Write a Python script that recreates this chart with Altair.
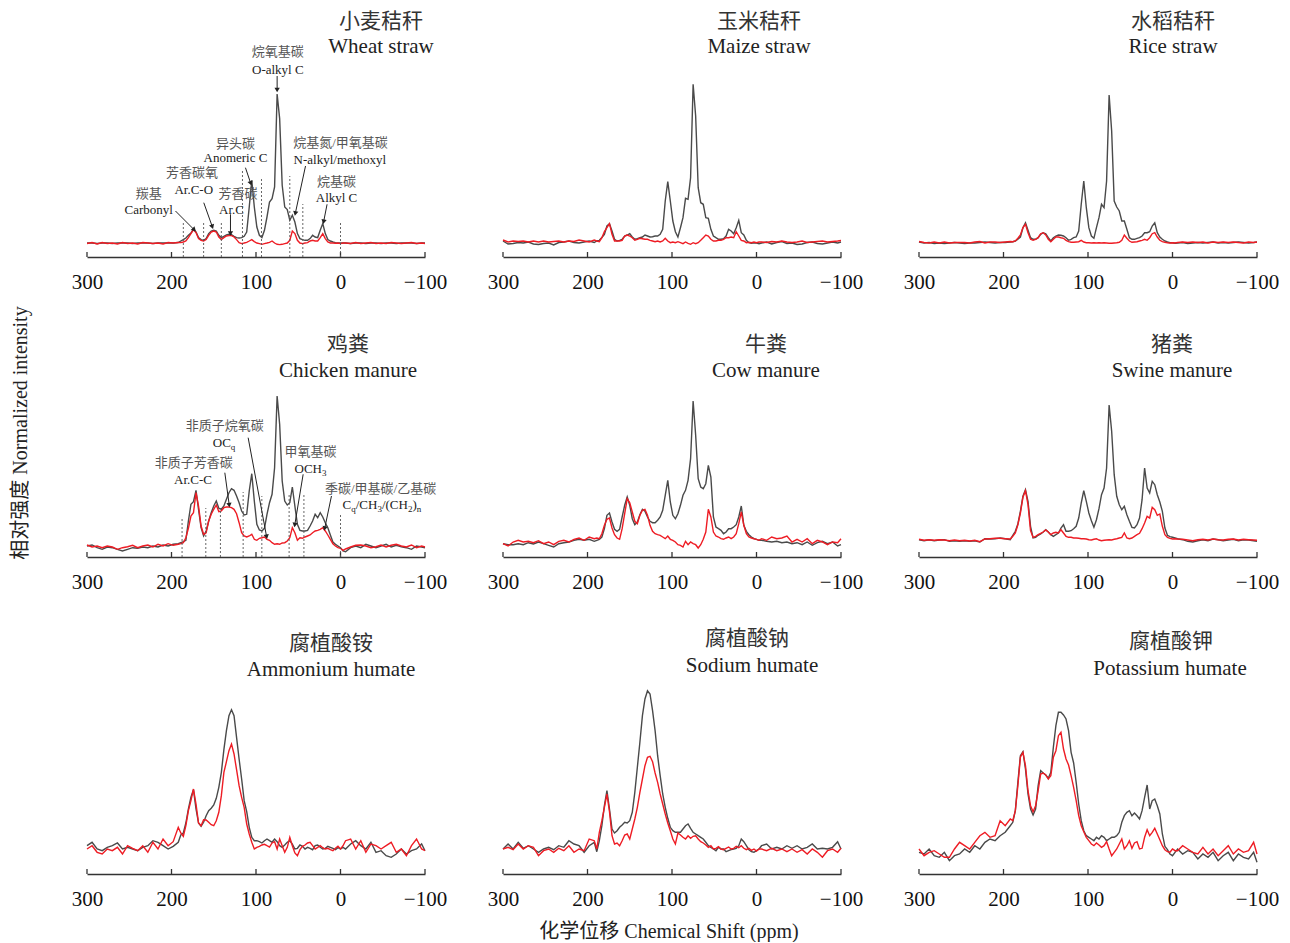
import math
import altair as alt
import pandas as pd

# shared chemical-shift grid (ppm)
PPM = list(range(300, 191, -6)) + list(range(189, -4, -3)) + list(range(-6, -97, -6)) + [-100]
TICKS = [300, 200, 100, 0, -100]

# ---------------- Row 1: straws ----------------
WHEAT_GRAY = [14,14,13.5,14,14,13.5,14,14,14,13.5,14,14,14,13.5,14,14,14,14,14.5] + [
    16,17.4,19,21.7,24,27.4,25,19.4,17.4,16.7,
    18.4,23.4,26,26.7,26,21.7,19.4,20.7,22,22.7,
    22.4,20.7,19.4,19,19.4,20.7,25,50,76.7,50,
    30,21.7,19.4,26.7,40,55,58.4,70,163,138.4,
    71.7,50,47.4,36.7,41.7,35,23.4,18.4,17.4,16.7,
    16.7,18.4,21.7,20,19.4,26.7,33.4,23.4,17.4,16,
    15,14.4,14,14,14] + [14,13.5,14,14,13.5,14,14,13.5,14,14,13.5,14,14,14,13.5,14,14]
WHEAT_RED = [13.5,14.5,13,14.5,13.5,14,13,14.5,13.5,14,13,14.5,14,13.5,14,13,14.5,14,14.5] + [
    14.4,15,16,19.4,23.4,27.4,24.4,18.4,16.7,16,
    17.4,21.7,25,26,25,20,17.4,19.4,21,21.4,
    21.4,20,17.4,14.4,13.4,14,14.7,16,17.4,15.4,
    14,13.4,12.7,13.4,14,14.7,16,14,12.7,12.4,
    12.7,13.4,14,16.7,26,23.4,16.7,14,13.4,14,
    14.4,16,16.7,16,16,19.4,23.4,18.4,15,14,
    14,13.7,14,13.4,14] + [14,13.5,14.5,13.5,14,14.5,13.5,14,13.5,14.5,14,13.5,14,14.5,13.5,14,13.5]

MAIZE_GRAY = [16,13,13.5,14.5,14,15,13,12.5,13.5,14,12,14.5,15,16,14.5,14,15,16,14.5] + [
    16,16.7,19.4,22.7,31,33.3,26,17.7,16,16.7,
    17.7,21,22,23.3,20,17.7,18.3,19.3,20,22,
    21,20,20.3,21,21,22.7,27.7,56,75.3,56,
    36,25.3,20,29.3,39.3,58.7,57.7,79.3,172.7,141,
    69.3,54.3,52.7,39.3,38.7,27.7,21,19.3,17.7,17.7,
    18.3,21,27.7,26,23.3,29.3,36.7,24.3,22,16.7,
    14.3,13.7,14.3,14,13.3] + [14,15,13,14.5,15.5,13.5,14,12.5,13,14.5,15,13.5,13,14,15,14,15]
MAIZE_RED = [17,15,16,15.5,16,15,16,15,16,15,15.5,16,15,16,15.5,17,16,15,17] + [
    16,15.3,19.3,25.3,29.3,33.3,22.7,16,16,16,
    16.7,21,22,21,19.3,16.7,17.7,18.7,18.3,17.7,
    17.7,16.7,16,15.3,16,15,16,18.7,16,14.3,
    15,14.3,15.3,14.3,13.3,15,13.7,12.7,14.3,13.3,
    14.3,16.7,19.3,22,21,17.7,16,16,16.7,16.7,
    17.7,19.3,19.3,20,19.3,25.3,21,16.7,16,14.3,
    14.7,14.3,15,14.3,15] + [15,14.5,15.5,15,16,15,14.5,15,16,14.5,15,15.5,16,15,15.5,16,16.5]

RICE_GRAY = [15,14,14.5,13.5,14,13.5,14,14.5,14,13.5,14,14,14.5,15,14.5,14,14.5,14.5,15] + [
    15.3,16,17.7,20,29.3,34.3,26.7,19.3,17.7,17.7,
    19.3,22.7,24.3,23.3,19.3,16,19.3,21,22,21.7,
    21,19.3,16.7,17.7,19.3,20,26,52.7,76,49.3,
    29.3,21,18.7,29.3,39.3,52.7,49.3,76,162,126,
    56,50,46,36,36,27.7,19.3,17.7,17.7,18.7,
    19.3,21,24.3,24.3,25.3,31,34.3,24.3,20,17.7,
    16,15,14.3,14.3,13.7] + [14,14.5,13.5,14,14.5,14,14.5,15,14,14.5,14,14.5,15,14.5,14,14.5,15]
RICE_RED = [15.5,14.5,14,15,14,15,14,14.5,14.5,14.5,14,15,15.5,14,15,15,14.5,15,15.5] + [
    15.3,16,18.7,22,29.3,32.7,24.3,17.7,16.7,17.7,
    19.3,23.3,24.3,22,17.7,15.3,17.7,20,20,19.3,
    18.7,16.7,15.3,14.7,14.7,15,15.3,16.7,15,14.3,
    14.3,14,14.3,14,14.3,14,14.3,14,13.7,13.7,
    14,14.3,14.7,16.7,22,18.7,16,14.7,15,15.3,
    16,16.7,17.7,16.7,19.3,23.3,24.3,20,16.7,15.3,
    14.7,14.3,14,14.3,14] + [14.5,15,14.5,15,14.5,15,14,15,14.5,15,14.5,15,14.5,14,15,14.5,15]

# ---------------- Row 2: manures ----------------
CHICKEN_GRAY = [11,12,9.3,7.7,10,9.3,7.7,6,7.7,9.3,8.7,10,9.3,11,10,12,11,12.7,13.3] + [
    14.3,15.3,16.7,36,52.7,55.3,66.7,47.7,29.3,21,
    26,36,44.3,51,56,48.7,47.7,51,57.7,64.3,
    68.3,66.7,61,54.3,46,42,42.7,66,83.3,56,
    32.7,27,26,28.7,42.7,54.3,62.7,89.3,161,132.7,
    76,56,52,54.3,70,51,32.7,26.7,26,26,
    26.7,31,36,42.7,39.3,44.3,40,34.3,29.3,22,
    15,12.7,11,9.3,6] + [5.3,9.3,11,9.3,12.7,11,9.3,11,12.7,10,11.7,10.3,9.3,7.7,11,10,9.3]
CHICKEN_RED = [12,10,11,9.3,11,10,7.7,9.3,10.3,11.7,9.3,11,12,10,12.7,11,13.3,11.7,12.7] + [
    13.3,14.3,19.3,28.7,41,44.3,64.3,51,31,22.7,
    24.3,36,42.7,47.7,52,45.3,46,49.3,50,50,
    49.3,47.7,43.3,34.3,24.3,21,20,21,22.7,17.7,
    16.7,18.7,19.3,20,17.7,16.7,14.3,12.7,13.3,12.7,
    14,14.3,16,19.3,29.3,24.3,16.7,19.3,18.7,20,
    21,22,24.3,26,26.7,27.7,29.3,26,22,17.7,
    13.3,11,9.3,8.7,6.7] + [8,10,11.7,12,11,9.3,10.3,12,10,11.7,12.7,11,10,12,9.3,11,10]

COW_GRAY = [13.3,12.3,12.3,13.3,12.3,14.3,13,15,13.3,11.7,10,13.3,14.3,15,16.7,17.7,16.7,17.7,15.7] + [
    16.7,17.7,20,28.3,41.7,44,35,27.7,25.7,27.7,
    40,51.7,60,51.7,38.3,32.3,35,42.3,47.7,45.7,
    40,35.7,34.3,34.3,36.7,40,46.7,61.7,76.7,55,
    41.7,38.3,43.3,51.7,61.7,66.7,76.7,98.3,156,121.7,
    78.3,70,68.3,73.3,91.7,80,40,30,28.3,26.7,
    23.3,25,28.3,28.3,30,32.3,40,51,31.7,25.7,
    22.3,20,18.3,17.7,16.7] + [16.7,15.7,15,15.7,14.3,15,13.3,14.3,12.3,15,11.7,14.3,15.7,13.3,15,11,12.3]
COW_RED = [13.3,11,15,16.7,15,15.7,14.3,16.3,13.3,15,12.3,15.7,16.7,15,17.7,19,16.7,20,18.3] + [
    19,18.3,23.3,31.7,37.7,39,29,22.3,19,17.7,
    28.3,43.3,58.3,54.3,45,35.7,33.3,41.7,46.7,47.7,
    41.7,31.7,25.7,23.3,22.3,21.7,20,18.3,21,17.7,
    16.7,15,12.3,11.7,10,15.7,12.3,15,13.3,12.3,
    9,12.3,17.7,25,47.7,40,25,21,20,18.3,
    17.7,19,20,18.3,20,23.3,33.3,45,31.7,23.3,
    20,19,18.3,17.7,16.7] + [18.3,16.7,20,18.3,19,21,15,17.7,15,18.3,13.3,16.7,15,12.3,15,14.3,18.3]

SWINE_GRAY = [17.3,16.3,17.3,16.3,17,17.3,15.7,16.3,15.7,16.3,15.7,16.3,15,18.3,18,18.3,19,18.3,17.3] + [
    21.7,25.7,33,45.7,60.7,67.3,55.7,30.7,19,19.7,
    21.7,23,25,27.3,25,22.3,20.7,22.3,24,29,
    32.3,25.7,25.7,26.3,28.3,30.7,39,54,66.3,55.7,
    44,36.3,29.7,37.3,48.3,62.3,69,89,152,125.7,
    82.3,60.7,52.3,47.3,50.7,42.3,35.7,29.7,29,32.3,
    39,57.3,89,69,64,75.7,72.3,62.3,55,45.7,
    29,21.7,20.3,19.7,19] + [18.3,17.3,15.7,15,16.3,17.3,16.3,18,17.3,16.3,17,17.7,16.3,17.3,17,16.3,15.7]
SWINE_RED = [17.7,16.7,17.3,16.7,17.3,17,16.3,17,16.3,16.7,16,16.7,15.3,18,18.3,18.7,18.7,18.3,18] + [
    20.7,24,32.3,44,59.7,66.3,52.3,26.3,19.7,20.7,
    22.3,23.7,25,27,25,22.3,24,24.7,24,27.3,
    24,20.7,19.7,19.7,19,19,18.7,18.3,18.3,18,
    17.3,17,17.7,18.3,17,16.3,16.7,17,17.3,17,
    17.7,18.3,19,19.7,24,19,18.3,19,20.7,22.3,
    23.7,28.3,34,40.7,39,49.7,47.3,41.7,43,30.7,
    22.3,19.7,18.7,18,18.3] + [18,17.7,17,16.3,17.3,17.7,17,18,17.3,17,17.7,18,17,17.7,17.3,17,16.7]

# ---------------- Row 3: humates ----------------
AMMONIUM_GRAY = [28.3,31.7,25,23.3,26.7,28.3,31,25,26.7,25,23.3,26.7,28.3,33.3,31.7,28.3,25,27.7,31.7] + [
    39,41,51,65,76.7,84.3,65,51,47.7,51.7,
    58.3,63.3,65.7,69,75.7,86.7,101.7,124.3,143.3,158.3,
    164.3,158.3,136.7,115,95,73.3,62.3,46.7,36.7,33.3,
    33.3,32.3,31,33.3,35,33.3,31.7,35,32.3,28.3,
    26.7,29,31.7,33.3,30,25,25.7,29,27.7,25,
    26.7,25.7,24.3,28.3,29,26.7,25,25.7,27.7,26.7,
    25.7,24.3,26.3,25,26.7] + [25,30,33.3,28.3,25,31.7,21.7,23.3,18.3,16.7,20,25,20,23.3,25,30,23.3]
AMMONIUM_RED = [25,28.3,21.7,20,25,23.3,26.7,20,28.3,25.7,23.3,28.3,21.7,31.7,25,35,28.3,32.3,46.7] + [
    41,37.7,48.3,63.3,73.3,85,70,51,48.3,54.3,
    54,51.7,49.3,48.3,53.3,61.7,78.3,101.7,112.3,123.3,
    130,120,104.3,88.3,76.7,66.7,50,40,31.7,25,
    26.7,27.7,29,29.7,28.3,27,31,32.3,25,35,
    28.3,21.7,26.7,36.7,28.3,21,18.3,24.3,27.7,29,
    31,31.7,28.3,25,26.7,28.3,26.3,25,25.7,24.3,
    23.3,25.7,27.7,25,28.3] + [33.3,35,25,33.3,21.7,30,28.3,25,28.3,31.7,21.7,25,18.3,28.3,35,25,23.3]

SODIUM_GRAY = [25,30,25,31.7,25.7,28.3,25,21.7,25,26.7,24.3,28.3,26.7,33.3,30,28.3,21.7,28.3,31.7] + [
    22.3,33.3,48.3,68.3,83.3,65,45,41,43.3,46.7,
    49,51.7,51,53.3,61.7,81.7,106.7,131.7,158.3,175,
    183.3,180,163.3,143.3,118.3,98.3,80,66.7,55.7,46.7,
    43.3,41.7,41.7,41.7,45,48.3,50,45.7,41.7,40,
    38.3,36.7,35,31.7,28.3,26.7,25,23.3,26.7,25,
    25,22.3,23.3,24.3,25,25.7,28.3,35,32.3,28.3,
    24.3,22.3,21.7,23.3,25] + [28.3,30,25,26.7,25,28.3,25.7,28.3,25,26.7,30,25,25.7,25,26.7,32.3,25]
SODIUM_RED = [25,26.7,24.3,30,25,28.3,26.7,18.3,23.3,25,21.7,25.7,23.3,28.3,21.7,25,23.3,35,33.3] + [
    25,41.7,53.3,66.7,80,62.3,38.3,30,31,28.3,
    33.3,39,40,35,45,55,66.7,81.7,95,108.3,
    116.7,117.7,112.3,101,91.7,80,70,60,51,43.3,
    35,30,41,39,36.7,35,38.3,35.7,37.7,38.3,
    35,32.3,31,29,26.7,28.3,25,25.7,27.3,25,
    24.3,25.7,27,25,25.7,27.7,26.3,28.3,25.7,24.3,
    25.7,23.7,25,23,25] + [25,23.3,25.7,23.3,25,22.3,25,21.7,24.3,20,25,21.7,16.7,23.3,25,21.7,25.7]

POTASSIUM_GRAY = [21.7,20,25,18.3,16.7,21.7,13.3,18.3,20,25,21.7,28.3,25,31.7,35,33.3,38.3,41.7,48.3] + [
    51.7,63.3,91.7,118.3,122.3,105,80,65,59,65,
    88.3,103.3,101,99,95.7,101.7,126.7,148.3,161.7,161.7,
    159,155,143.3,121.7,111,91.7,70,53.3,43.3,38.3,
    36.7,35,33.3,36.7,35,38.3,36.7,33.3,35,36.7,
    36.7,38.3,41.7,51.7,58.3,61.7,63.3,58.3,61,58.3,
    55,63.3,76.7,89,65,73.3,75,68.3,60,40,
    27.7,24.3,20,18.3,21.7] + [25,20,23.3,21.7,15,20,16.7,21.7,13.3,18.3,21.7,13.3,20,16.7,15,21.7,11.7]
POTASSIUM_RED = [25,18.3,21.7,23.3,20,16.7,16.7,25,31.7,28.3,25,31.7,38.3,41.7,36.7,38.3,53.3,48.3,55] + [
    53.3,63.3,88.3,116.7,121.7,108.3,83.3,68.3,62.3,68.3,
    83.3,100,101,99,95,98.3,116.7,123.3,138.3,141.7,
    125,115,109,98.3,86.7,73.3,58.3,48.3,42.3,36.7,
    33.3,30,28.3,31,29,26.7,28.3,32.3,25,18.3,
    21.7,25,30,35,25,28.3,33.3,25.7,31,32.3,
    25,25.7,36.7,44.3,38.3,41.7,45.7,40,34.3,28.3,
    24.3,22.3,21.7,25,23.3] + [23.3,28.3,25,21.7,20,26.7,20,25,18.3,23.3,28.3,20,25,21.7,23.3,31.7,20]

for _s in [WHEAT_GRAY, WHEAT_RED, MAIZE_GRAY, MAIZE_RED, RICE_GRAY, RICE_RED,
           CHICKEN_GRAY, CHICKEN_RED, COW_GRAY, COW_RED, SWINE_GRAY, SWINE_RED,
           AMMONIUM_GRAY, AMMONIUM_RED, SODIUM_GRAY, SODIUM_RED, POTASSIUM_GRAY, POTASSIUM_RED]:
    assert len(_s) == len(PPM), len(_s)

# ---------------- annotations ----------------
WHEAT_REGION_PPM = [186, 162, 141, 116, 93.5, 60, 44.6, 0]
WHEAT_REGION_TOP = [34, 36, 34, 86, 78, 81, 53, 34]
WHEAT_LABELS = [  # ppm, value, text, is_chinese
    (226.9, 63, "羰基", 1), (226.9, 46.7, "Carbonyl", 0),
    (175.7, 84.5, "芳香碳氧", 1), (173.7, 66.7, "Ar.C-O", 0),
    (121.2, 63, "芳香碳", 1), (129, 46.7, "Ar.C", 0),
    (124.3, 113.5, "异头碳", 1), (124.3, 99.5, "Anomeric C", 0),
    (74.2, 205, "烷氧基碳", 1), (74.2, 187.4, "O-alkyl C", 0),
    (0, 114, "烷基氮/甲氧基碳", 1), (0.8, 97.4, "N-alkyl/methoxyl", 0),
    (4.7, 75.5, "烷基碳", 1), (4.7, 59, "Alkyl C", 0),
]
WHEAT_ARROWS = [
    (195.3, 46, 173.7, 27.7), (161.8, 54.3, 152, 31), (130.2, 42.7, 130.2, 24.3),
    (112.5, 89.3, 106.5, 74.3), (75, 181, 75, 167.7), (41.4, 91, 53.3, 44.3), (15.9, 52.7, 19.8, 36),
]

CHICKEN_REGION_PPM = [187.5, 159.4, 142.1, 115.2, 93.1, 60.8, 43.3, 0]
CHICKEN_REGION_TOP = [40, 49, 49, 65, 61, 63, 63, 44]
CHICKEN_LABELS = [
    (136.9, 131.5, "非质子烷氧碳", 1),
    (173.6, 94, "非质子芳香碳", 1), (174.5, 77, "Ar.C-C", 0),
    (35.5, 105, "甲氧基碳", 1),
    (-47.4, 68.5, "季碳/甲基碳/乙基碳", 1),
]
CHICKEN_SEGMENTS = [  # anchor ppm, value, [(text, dx, subscript)]
    (138.1, 114.3, [("OC", -11, 0), ("q", 7, 1)]),
    (35.5, 87.7, [("OCH", -16, 0), ("3", 11.4, 1)]),
    (-2.4, 52, [("C", 0, 0), ("q", 8.7, 1), ("/CH", 13.2, 0), ("3", 34.9, 1),
                ("/(CH", 39.4, 0), ("2", 65.4, 1), (")", 69.9, 0), ("n", 74.2, 1)]),
]
CHICKEN_ARROWS = [
    (109.3, 119.3, 87.6, 21), (136.9, 84.3, 131.8, 52.7), (44.2, 82.7, 54, 32.7), (10.7, 61, 18.5, 29.3),
]

# ---------------- styling ----------------
GRAY = "#4a4a4a"
RED = "#ee1c24"
FONT = "Liberation Serif, Noto Sans CJK SC"
W = 338
KPX = W / 400.0
XS = alt.Scale(domain=[300, -100], nice=False)


def ys(h):
    return alt.Scale(domain=[0, h], nice=False, zero=False)


AXIS = alt.Axis(values=TICKS, ticks=False, grid=False, domainColor="#333", domainWidth=1.4,
                labelFont="Liberation Serif", labelFontSize=21, labelColor="#111", labelPadding=14,
                labelFlush=False, labelOverlap=False, title=None)


def xq(field):
    return alt.X(field, type="quantitative", scale=XS, axis=AXIS)


def yq(field, h):
    return alt.Y(field, type="quantitative", scale=ys(h), axis=None)


def spectra(gray, red, h):
    n = len(PPM)
    df = pd.DataFrame({"ppm": PPM + PPM, "val": list(gray) + list(red),
                       "series": ["Gray"] * n + ["Red"] * n})
    return alt.Chart(df).mark_line(strokeWidth=1.4).encode(
        x=xq("ppm"), y=yq("val", h),
        color=alt.Color("series:N", scale=alt.Scale(domain=["Gray", "Red"], range=[GRAY, RED]), legend=None),
    )


def tick_layer(h):
    df = pd.DataFrame({"ppm": TICKS, "v0": [0] * len(TICKS), "v1": [5] * len(TICKS)})
    return alt.Chart(df).mark_rule(color="#333", strokeWidth=1.3).encode(
        x=xq("ppm"), y=yq("v0", h), y2="v1:Q")


def fixed_text(txt, px, py, size=21, color="#222", angle=None):
    kw = dict(font=FONT, fontSize=size, color=color, align="center", baseline="middle")
    if angle is not None:
        kw["angle"] = angle
    return alt.Chart(pd.DataFrame({"t": [txt]})).mark_text(**kw).encode(
        text="t:N", x=alt.value(px), y=alt.value(py))


def region_lines(ppms, tops, h):
    df = pd.DataFrame({"ppm": ppms, "v0": [0] * len(ppms), "v1": tops})
    return alt.Chart(df).mark_rule(color="#555", strokeWidth=0.9, strokeDash=[2, 2]).encode(
        x=xq("ppm"), y=yq("v0", h), y2="v1:Q")


def label_layers(labels, h):
    out = []
    for cn, color in [(1, "#555"), (0, "#222")]:
        rows = [(p, v, t) for p, v, t, c in labels if c == cn]
        if not rows:
            continue
        df = pd.DataFrame(rows, columns=["ppm", "val", "label"])
        out.append(alt.Chart(df).mark_text(font=FONT, fontSize=13, color=color, align="center",
                                           baseline="middle").encode(
            x=xq("ppm"), y=yq("val", h), text="label:N"))
    return out


def segment_layers(segments, h):
    out = []
    for p, v, segs in segments:
        for txt, dx, sub in segs:
            df = pd.DataFrame({"ppm": [p], "val": [v], "label": [txt]})
            out.append(alt.Chart(df).mark_text(
                font=FONT, fontSize=9 if sub else 13, color="#222", align="left", baseline="middle",
                dx=dx, dy=4 if sub else 0).encode(
                x=xq("ppm"), y=yq("val", h), text="label:N"))
    return out


def arrow_layers(arrows, h):
    rows = []
    for p1, v1, p2, v2 in arrows:
        dxp = (p1 - p2) * KPX
        dyp = (v1 - v2)
        ang = math.degrees(math.atan2(dxp, -dyp)) % 360
        rows.append((p1, v1, p2, v2, ang))
    df = pd.DataFrame(rows, columns=["p1", "v1", "p2", "v2", "ang"])
    line = alt.Chart(df).mark_rule(color="#222", strokeWidth=1).encode(
        x=xq("p1"), x2="p2:Q", y=yq("v1", h), y2="v2:Q")
    head = alt.Chart(df).mark_point(shape="triangle", filled=True, size=28, color="#222", opacity=1).encode(
        x=xq("p2"), y=yq("v2", h), angle=alt.Angle("ang:Q", scale=None))
    return [line, head]


def panel(cn, en, gray, red, h, t1, t2, extra=()):
    layers = [spectra(gray, red, h), tick_layer(h),
              fixed_text(cn, t1[0], t1[1], color="#333"),
              fixed_text(en, t2[0], t2[1])]
    layers += list(extra)
    return alt.layer(*layers).properties(width=W, height=h)


H1, H2, H3 = 246, 250, 267

p1 = panel("小麦秸秆", "Wheat straw", WHEAT_GRAY, WHEAT_RED, H1, (294, 10.5), (294, 36),
           [region_lines(WHEAT_REGION_PPM, WHEAT_REGION_TOP, H1)] + label_layers(WHEAT_LABELS, H1)
           + arrow_layers(WHEAT_ARROWS, H1))
p2 = panel("玉米秸秆", "Maize straw", MAIZE_GRAY, MAIZE_RED, H1, (256, 10.5), (256, 36))
p3 = panel("水稻秸秆", "Rice straw", RICE_GRAY, RICE_RED, H1, (254, 10.5), (254, 36))

p4 = panel("鸡粪", "Chicken manure", CHICKEN_GRAY, CHICKEN_RED, H2, (261, 38), (261, 64),
           [region_lines(CHICKEN_REGION_PPM, CHICKEN_REGION_TOP, H2)] + label_layers(CHICKEN_LABELS, H2)
           + segment_layers(CHICKEN_SEGMENTS, H2) + arrow_layers(CHICKEN_ARROWS, H2)
           + [fixed_text("相对强度 Normalized intensity", -66, 126, size=20, color="#222", angle=270)])
p5 = panel("牛粪", "Cow manure", COW_GRAY, COW_RED, H2, (263, 38), (263, 64))
p6 = panel("猪粪", "Swine manure", SWINE_GRAY, SWINE_RED, H2, (253, 38), (253, 64))

p7 = panel("腐植酸铵", "Ammonium humate", AMMONIUM_GRAY, AMMONIUM_RED, H3, (244, 37), (244, 63))
p8 = panel("腐植酸钠", "Sodium humate", SODIUM_GRAY, SODIUM_RED, H3, (244, 32), (249, 59),
           [fixed_text("化学位移 Chemical Shift (ppm)", 166, 325, size=20, color="#222")])
p9 = panel("腐植酸钾", "Potassium humate", POTASSIUM_GRAY, POTASSIUM_RED, H3, (252, 35), (251, 62))

chart = alt.concat(p1, p2, p3, p4, p5, p6, p7, p8, p9, columns=3,
                   spacing={"row": 50, "column": 78}, bounds="flush").properties(
    padding={"left": 2, "top": 2, "right": 0, "bottom": 0}
).configure_view(stroke=None)

chart.save("out.html", embed_options={"renderer": "svg", "actions": False})
